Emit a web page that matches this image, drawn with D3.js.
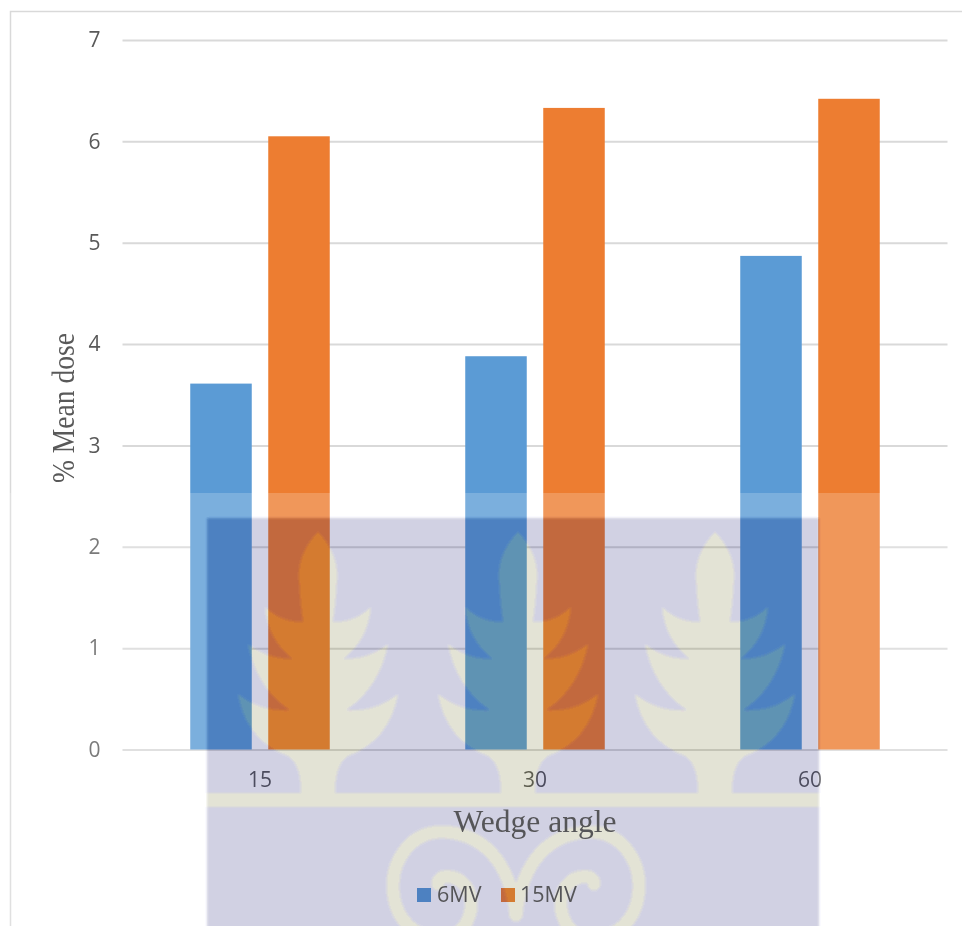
<!DOCTYPE html>
<html>
<head>
<meta charset="utf-8">
<script src="https://cdn.jsdelivr.net/npm/d3@7/dist/d3.min.js"></script>
<style>
  html, body { margin: 0; padding: 0; background: #fff; overflow: hidden; }
  svg { display: block; background: #fff; isolation: isolate; }
  .sans { font-family: "Open Sans", sans-serif; fill: #595959; }
  .serif { font-family: "Liberation Serif", serif; fill: #595959; }
</style>
</head>
<body>
<svg id="chart" width="962" height="926"></svg>
<script>
// Mean dose per wedge angle and beam energy
const wedgeAngles = ["15", "30", "60"];
const seriesNames = ["6MV", "15MV"];
const dose6MV = [3.61, 3.88, 4.87];
const dose15MV = [6.05, 6.33, 6.42];
const yTicks = [0, 1, 2, 3, 4, 5, 6, 7];
const seriesColors = ["#5b9bd5", "#ed7d31"];

const svg = d3.select("#chart");

// Plot frame edge
svg.append("path")
  .attr("d", d3.line()([[962, 11.5], [10.5, 11.5], [10.5, 926]]))
  .attr("fill", "none").attr("stroke", "#d9d9d9").attr("stroke-width", 1.5);

const x0 = d3.scaleBand().domain(wedgeAngles).range([122.5, 947.5]).paddingInner(0.4927).paddingOuter(0.24635);
const x1 = d3.scaleBand().domain(seriesNames).range([0, x0.bandwidth()]).paddingInner(0.2115);
const y = d3.scaleLinear().domain([0, 7]).range([749.5, 40]);

// Value axis with full-width gridlines
const yAxis = svg.append("g")
  .attr("transform", "translate(122.5,0)")
  .call(d3.axisLeft(y).tickValues(yTicks).tickSize(-825).tickPadding(22).tickFormat(d3.format("d")));
yAxis.select(".domain").remove();
yAxis.selectAll("line").attr("stroke", "#d9d9d9").attr("stroke-width", 2);
yAxis.selectAll("text").attr("class", "sans").attr("font-size", 21).attr("font-family", null).attr("fill", null);

// Grouped bars
const seriesValues = [dose6MV, dose15MV];
seriesNames.forEach((name, s) => {
  svg.append("g").selectAll("rect")
    .data(seriesValues[s])
    .join("rect")
    .attr("x", (d, i) => x0(wedgeAngles[i]) + x1(name))
    .attr("y", d => y(d))
    .attr("width", x1.bandwidth())
    .attr("height", d => y(0) - y(d))
    .attr("fill", seriesColors[s]);
});

// Category labels
const xAxis = svg.append("g")
  .attr("transform", "translate(0,749.5)")
  .call(d3.axisBottom(x0).tickSize(0).tickPadding(23));
xAxis.select(".domain").remove();
xAxis.selectAll("text").attr("class", "sans").attr("font-size", 21).attr("font-family", null).attr("fill", null);

// Value axis title, tall letters squeezed along the run of the text
svg.append("text").attr("class", "serif")
  .attr("transform", "translate(74,408) rotate(-90)").attr("text-anchor", "middle")
  .attr("font-size", 31).attr("textLength", 150).attr("lengthAdjust", "spacingAndGlyphs")
  .text("% Mean dose");

// Legend swatches
const legendSwatchX = [417, 501];
const legendTextX = [437, 520];
seriesNames.forEach((name, s) => {
  svg.append("rect").attr("x", legendSwatchX[s]).attr("y", 888)
    .attr("width", 14).attr("height", 14).attr("fill", seriesColors[s]);
});

// Pale wash over the lower part of the page
svg.append("rect").attr("x", 0).attr("y", 493).attr("width", 962).attr("height", 433)
  .attr("fill", "#fff").attr("fill-opacity", 0.2);

// Crest stamped across the page; difference blending lets everything beneath show through
const defs = svg.append("defs");
defs.append("filter").attr("id", "soft").attr("x", "-5%").attr("y", "-5%").attr("width", "110%").attr("height", "110%")
  .append("feGaussianBlur").attr("stdDeviation", 1.2);

const crest = svg.append("g").style("mix-blend-mode", "difference").attr("filter", "url(#soft)");
crest.append("rect").attr("x", 207).attr("y", 518).attr("width", 612).attr("height", 420)
  .attr("fill", "rgb(45,45,29)");

const crestInk = "rgb(26,28,42)";
// Right half of the plant outline; the left half is the same curve traced back in mirror
const halfPlant = [
  [[21, 22], [19, 48]], [[18, 70], [15, 90]],
  [[38, 90], [53, 75]], [[50, 108], [25, 127]],
  [[52, 127], [70, 112]], [[62, 155], [28, 178]],
  [[58, 180], [80, 162]], [[72, 208], [30, 224]],
  [[17, 232], [17, 262]]
];
const plantPath = () => {
  let d = "M 0 0";
  halfPlant.forEach(([c, p]) => { d += ` Q ${c[0]} ${c[1]} ${p[0]} ${p[1]}`; });
  d += " L -17 262";
  for (let i = halfPlant.length - 1; i >= 0; i--) {
    const c = halfPlant[i][0];
    const p = i > 0 ? halfPlant[i - 1][1] : [0, 0];
    d += ` Q ${-c[0]} ${c[1]} ${-p[0]} ${p[1]}`;
  }
  return d + " Z";
};
[318, 518, 715].forEach(cx => {
  crest.append("path").attr("transform", `translate(${cx},532)`)
    .attr("d", plantPath()).attr("fill", crestInk);
});
crest.append("rect").attr("x", 207).attr("y", 793).attr("width", 612).attr("height", 14).attr("fill", crestInk);

// Twin scrolls under the band
const scrollPath = m => {
  const X = v => 516 + m * v;
  return `M ${X(0)} 915 C ${X(6)} 860 ${X(35)} 832 ${X(75)} 832 ` +
         `C ${X(105)} 832 ${X(123)} 860 ${X(123)} 885 ` +
         `C ${X(123)} 920 ${X(100)} 940 ${X(70)} 938 ` +
         `C ${X(45)} 932 ${X(38)} 900 ${X(52)} 884 ` +
         `C ${X(62)} 874 ${X(78)} 874 ${X(78)} 884`;
};
[-1, 1].forEach(m => {
  crest.append("path").attr("d", scrollPath(m)).attr("fill", "none")
    .attr("stroke", crestInk).attr("stroke-width", 13).attr("stroke-linecap", "round");
});

// Text printed over the crest
svg.append("text").attr("class", "serif")
  .attr("x", 535).attr("y", 832).attr("text-anchor", "middle")
  .attr("font-size", 31.5).style("fill", "#555558").text("Wedge angle");
seriesNames.forEach((name, s) => {
  svg.append("text").attr("class", "sans")
    .attr("x", legendTextX[s]).attr("y", 902).attr("font-size", 21.5)
    .style("fill", "#555558").text(name);
});
</script>
</body>
</html>
